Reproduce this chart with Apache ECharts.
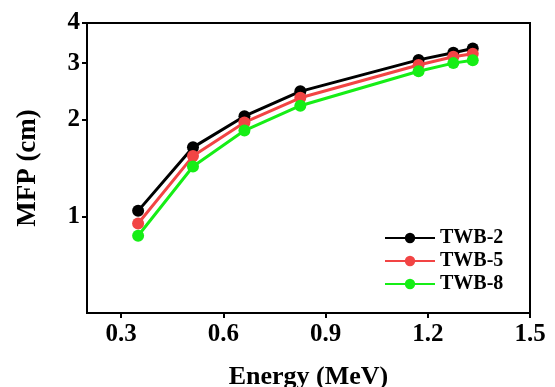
<!DOCTYPE html>
<html>
<head>
<meta charset="utf-8">
<script src="https://cdn.jsdelivr.net/npm/echarts@6/dist/echarts.min.js"></script>
<style>html,body{margin:0;padding:0;background:#fff;}#c{width:555px;height:387px;}</style>
</head>
<body>
<div id="c"></div>
<script>
var energies = [0.35, 0.511, 0.662, 0.826, 1.173, 1.275, 1.332];
var twb2 = [1.04, 1.64, 2.05, 2.45, 3.07, 3.23, 3.33];
var twb5 = [0.95, 1.54, 1.96, 2.34, 2.96, 3.14, 3.21];
var twb8 = [0.87, 1.43, 1.85, 2.21, 2.83, 3.00, 3.06];
var xTicks = [0.3, 0.6, 0.9, 1.2, 1.5];
var yTicks = [1, 2, 3, 4];
var names = ['TWB-2', 'TWB-5', 'TWB-8'];
var colors = ['#000000', '#f24444', '#16ee16'];

function pairs(ys){ return energies.map(function(x,i){ return [x, ys[i]]; }); }
var font = '"Liberation Serif", "Times New Roman", serif';
var chart = echarts.init(document.getElementById('c'));
var all = [twb2, twb5, twb8];
chart.setOption({
  animation: false,
  grid: { left: 87, right: 25, top: 23, bottom: 74, show: true, borderColor: '#000', borderWidth: 2, outerBoundsMode: 'none', containLabel: false },
  xAxis: {
    type: 'value', min: 0.2, max: 1.5,
    name: 'Energy (MeV)', nameLocation: 'middle', nameGap: 51,
    nameTextStyle: { fontFamily: font, fontWeight: 'bold', fontSize: 26, color: '#000' },
    axisLine: { lineStyle: { color: '#000', width: 2 } },
    axisTick: { show: true, length: 5, lineStyle: { color: '#000', width: 2 }, customValues: xTicks },
    axisLabel: { customValues: xTicks, fontFamily: font, fontWeight: 'bold', fontSize: 25, color: '#000', margin: 9 },
    splitLine: { show: false }
  },
  yAxis: {
    type: 'log', min: 0.5, max: 4,
    name: 'MFP (cm)', nameLocation: 'middle', nameGap: 45,
    nameTextStyle: { fontFamily: font, fontWeight: 'bold', fontSize: 27, color: '#000' },
    axisLine: { show: true, lineStyle: { color: '#000', width: 2 } },
    axisTick: { show: true, length: 5, lineStyle: { color: '#000', width: 2 }, customValues: yTicks },
    axisLabel: { customValues: yTicks, fontFamily: font, fontWeight: 'bold', fontSize: 25, color: '#000', margin: 7 },
    splitLine: { show: false }
  },
  legend: {
    orient: 'vertical', left: 379, top: 223, itemGap: 3, itemWidth: 50, itemHeight: 13,
    textStyle: { fontFamily: font, fontWeight: 'bold', fontSize: 20, color: '#000' },
    data: names
  },
  series: names.map(function(n, i){
    return {
      name: n, type: 'line', data: pairs(all[i]),
      symbol: 'circle', symbolSize: 12,
      lineStyle: { color: colors[i], width: 3 },
      itemStyle: { color: colors[i] }
    };
  })
});
</script>
</body>
</html>
